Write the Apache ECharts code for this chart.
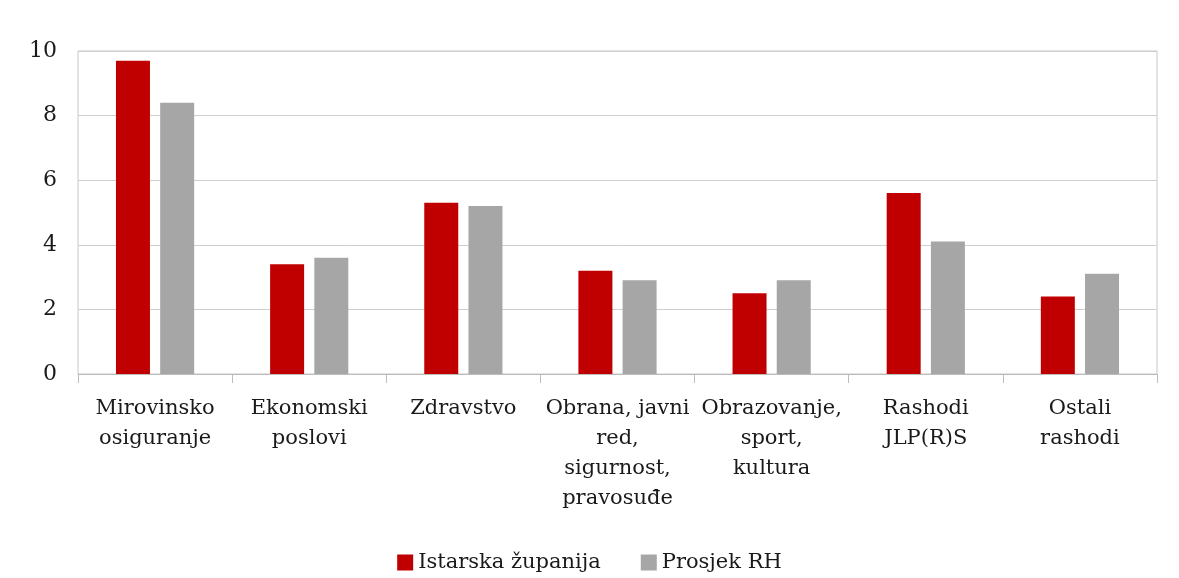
<!DOCTYPE html>
<html>
<head>
<meta charset="utf-8">
<script src="https://cdn.jsdelivr.net/npm/echarts@6/dist/echarts.min.js"></script>
<style>
  html, body { margin: 0; padding: 0; background: #fff; }
  #chart { width: 1179px; height: 578px; }
</style>
</head>
<body>
<div id="chart"></div>
<script>
// kategorije rashoda
const categories = [
  'Mirovinsko\nosiguranje',
  'Ekonomski\nposlovi',
  'Zdravstvo',
  'Obrana, javni\nred,\nsigurnost,\npravosuđe',
  'Obrazovanje,\nsport,\nkultura',
  'Rashodi\nJLP(R)S',
  'Ostali\nrashodi'
]
const istarska = [9.7, 3.4, 5.3, 3.2, 2.5, 5.6, 2.4]
const prosjekRH = [8.4, 3.6, 5.2, 2.9, 2.9, 4.1, 3.1]
const yTicks = [0, 2, 4, 6, 8, 10]

const fontFamily = '"DejaVu Serif", "Liberation Serif", serif'

const myEchart = echarts.init(document.getElementById('chart'))
const options = {
  animation: false,
  textStyle: { fontFamily: fontFamily },
  grid: {
    left: 78,
    right: 22,
    top: 51,
    bottom: 204,
    show: true,
    borderColor: '#c8c8c8',
    borderWidth: 1
  },
  legend: {
    bottom: 0,
    left: 'center',
    itemWidth: 16,
    itemHeight: 16,
    itemGap: 40,
    icon: 'rect',
    textStyle: { fontFamily: fontFamily, fontSize: 21, color: '#1a1a1a' },
    data: ['Istarska županija', 'Prosjek RH']
  },
  xAxis: {
    type: 'category',
    data: categories,
    axisLine: { show: true, lineStyle: { color: '#bcbcbc' } },
    axisTick: { show: true, length: 9, lineStyle: { color: '#bcbcbc' } },
    axisLabel: {
      interval: 0,
      margin: 20,
      fontSize: 21,
      lineHeight: 30,
      color: '#1a1a1a',
      fontFamily: fontFamily
    }
  },
  yAxis: {
    type: 'value',
    min: yTicks[0],
    max: yTicks[yTicks.length - 1],
    interval: 2,
    axisLine: { show: false },
    axisTick: { show: false },
    splitLine: { lineStyle: { color: '#cfcfcf', width: 1 } },
    axisLabel: {
      margin: 21,
      fontSize: 22,
      color: '#1a1a1a',
      fontFamily: fontFamily
    }
  },
  series: [
    {
      name: 'Istarska županija',
      type: 'bar',
      data: istarska,
      barWidth: 34,
      barGap: '30%',
      itemStyle: { color: '#c00000' }
    },
    {
      name: 'Prosjek RH',
      type: 'bar',
      data: prosjekRH,
      barWidth: 34,
      itemStyle: { color: '#a6a6a6' }
    }
  ]
}
myEchart.setOption(options)
</script>
</body>
</html>
